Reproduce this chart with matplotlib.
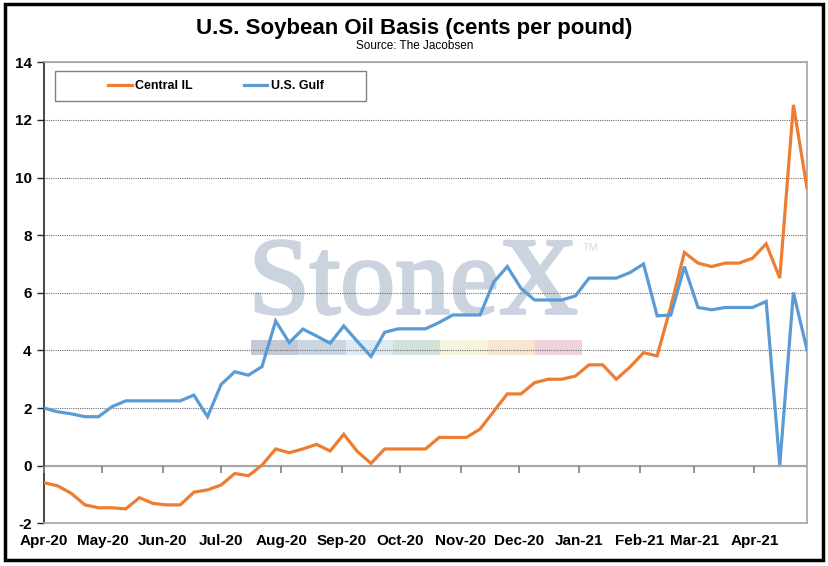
import numpy as np
import pandas as pd
import matplotlib
matplotlib.use("Agg")
import matplotlib.pyplot as plt
import matplotlib.dates as mdates
import matplotlib.patheffects as pe
from matplotlib.patches import Rectangle

# ***Data***
dates = pd.date_range("2020-04-01", periods=57, freq="7D")

central_il = [-0.59, -0.70, -0.96, -1.36, -1.46, -1.46, -1.50, -1.11, -1.31, -1.36,
              -1.36, -0.92, -0.84, -0.67, -0.27, -0.35, 0.02, 0.58, 0.45, 0.58,
              0.74, 0.51, 1.09, 0.49, 0.08, 0.58, 0.58, 0.58, 0.58, 0.98,
              0.98, 0.98, 1.27, 1.88, 2.49, 2.49, 2.88, 3.00, 3.00, 3.11,
              3.50, 3.50, 3.00, 3.42, 3.92, 3.81, 5.52, 7.40, 7.03, 6.91,
              7.03, 7.03, 7.20, 7.70, 6.51, 12.52, 9.63]

us_gulf = [2.00, 1.87, 1.80, 1.70, 1.70, 2.05, 2.25, 2.25, 2.25, 2.25,
           2.25, 2.45, 1.70, 2.82, 3.26, 3.14, 3.44, 5.02, 4.27, 4.74,
           4.50, 4.25, 4.85, 4.31, 3.79, 4.63, 4.75, 4.75, 4.75, 4.97,
           5.23, 5.23, 5.23, 6.37, 6.91, 6.16, 5.75, 5.75, 5.75, 5.89,
           6.51, 6.51, 6.51, 6.70, 7.00, 5.20, 5.23, 6.91, 5.49, 5.41,
           5.49, 5.49, 5.49, 5.70, 0.02, 6.01, 4.02]

series_names = ["Central IL", "U.S. Gulf"]
series_colors = ["#ED7D31", "#5B9BD5"]
y_ticks = [-2, 0, 2, 4, 6, 8, 10, 12, 14]

title = "U.S. Soybean Oil Basis (cents per pound)"
source = "Source: The Jacobsen"

narrow = ["Liberation Sans Narrow", "Liberation Sans", "DejaVu Sans"]
plt.rcParams["font.family"] = ["Liberation Sans", "DejaVu Sans"]
plt.rcParams["axes.unicode_minus"] = False

fig = plt.figure(figsize=(8.29, 5.66), dpi=100)
ax = fig.add_axes([0.0531, 0.0754, 0.9204, 0.8146])

# ***Watermark***
wm_color = "#cbd4de"
ax.text(0.484, 0.4555, "StoneX", transform=ax.transAxes, ha="center",
        va="baseline", fontsize=79, family=["Liberation Serif", "DejaVu Serif"],
        color=wm_color, zorder=0.1,
        path_effects=[pe.withStroke(linewidth=2.2, foreground=wm_color)])
ax.text(0.716, 0.597, "TM", transform=ax.transAxes, ha="center", va="center",
        fontsize=8, color="#d5dce5", zorder=0.1)
band_colors = ["#c3cad6", "#cbd6e3", "#dde9f3", "#d2e2da", "#f6f4dc",
               "#f8e6d2", "#f0d3da"]
for i, c in enumerate(band_colors):
    ax.add_patch(Rectangle((0.2713 + i * 0.062, 0.366), 0.062, 0.031,
                           transform=ax.transAxes, facecolor=c,
                           edgecolor="none", zorder=0.2))

# ***Lines***
ax.plot(dates, central_il, color=series_colors[0], lw=2.3,
        label=series_names[0], zorder=3, solid_joinstyle="miter")
ax.plot(dates, us_gulf, color=series_colors[1], lw=2.3,
        label=series_names[1], zorder=3, solid_joinstyle="miter")

ax.set_ylim(-2, 14)
ax.set_yticks(y_ticks)
ax.set_xlim(pd.Timestamp("2020-04-01"), pd.Timestamp("2021-04-28"))
ax.yaxis.grid(True, color="#6e6e6e", linestyle=(0, (1, 1)), lw=0.8)
ax.axhline(0, color="#a6a6a6", lw=1.5, zorder=2)

ax.xaxis.set_major_locator(mdates.MonthLocator())
ax.xaxis.set_major_formatter(mdates.DateFormatter("%b-%y"))
ax.tick_params(axis="x", length=0, pad=8, labelsize=11)
ax.tick_params(axis="y", length=5, width=1, direction="out", pad=4,
               labelsize=11, color="#262626")
for lab in ax.get_xticklabels() + ax.get_yticklabels():
    lab.set_fontweight("bold")

ax.spines["left"].set_color("#262626")
ax.spines["left"].set_linewidth(1.2)
for s in ["top", "right", "bottom"]:
    ax.spines[s].set_color("#a6a6a6")
    ax.spines[s].set_linewidth(1.2)

# month tick marks hanging from the zero line
ax2 = ax.twiny()
ax2.set_xlim(ax.get_xlim())
ax2.xaxis.set_ticks_position("bottom")
ax2.spines["bottom"].set_position(("data", 0))
ax2.xaxis.set_major_locator(mdates.MonthLocator())
ax2.tick_params(axis="x", length=5, width=1.2, color="#7f7f7f",
                labelbottom=False, labeltop=False, top=False)
for s in ax2.spines.values():
    s.set_visible(False)

# ***Legend***
ax.add_patch(Rectangle((0.0144, 0.9154), 0.4076, 0.0651, transform=ax.transAxes,
                       facecolor="white", edgecolor="#808080", lw=1.0,
                       zorder=4))
leg = ax.legend(loc="center", bbox_to_anchor=(0.225, 0.948), ncol=2,
                frameon=False, handlelength=1.9, handletextpad=0.25,
                columnspacing=4.1, prop={"weight": "bold", "size": 9})
leg.set_zorder(5)

# ***Titles and frame***
fig.text(0.5, 0.9505, title, ha="center", va="center", fontsize=16,
         fontweight="bold", family=narrow)
fig.text(0.5, 0.9187, source, ha="center", va="center", fontsize=8.5,
         family=narrow)
fig.add_artist(Rectangle((0.006, 0.0106), 0.9868, 0.9824,
                         transform=fig.transFigure, fill=False,
                         edgecolor="black", lw=2.5))

fig.savefig("out.png", dpi=100)
